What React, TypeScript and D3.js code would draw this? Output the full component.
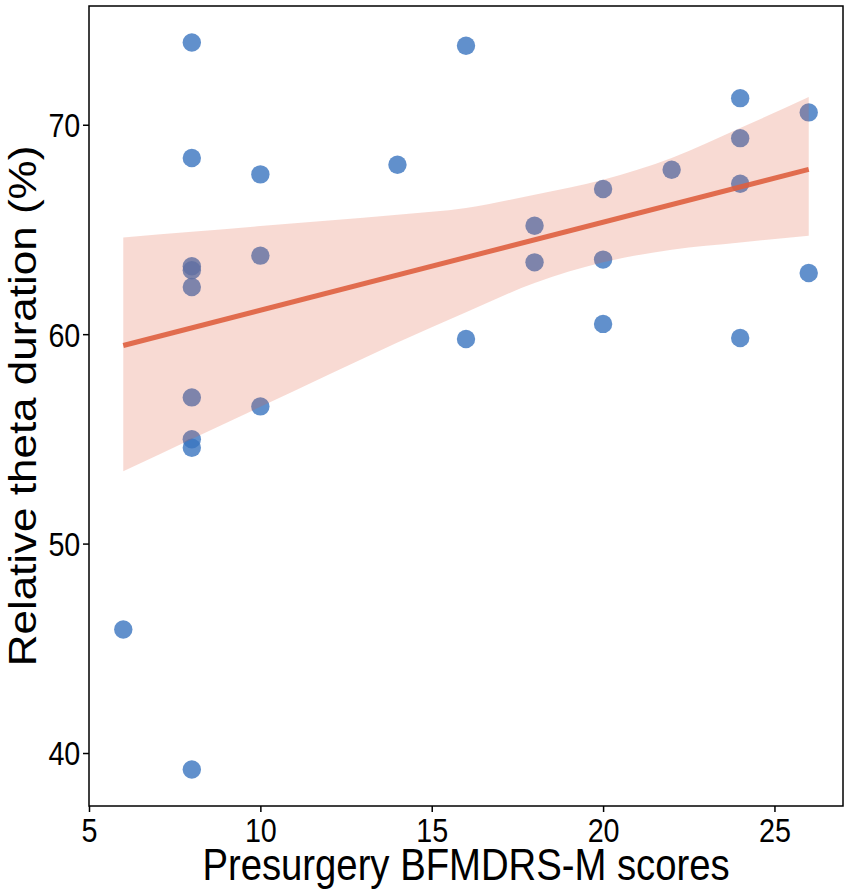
import React, { useEffect } from 'react';
import * as d3 from 'd3';

// presurgery BFMDRS-M score of each patient
const scores = [6, 8, 8, 8, 8, 8, 8, 8, 8, 8, 10, 10, 10, 14, 16, 16, 18, 18, 20, 20, 20, 22, 24, 24, 24, 24, 26, 26];
// relative theta duration (%) of each patient
const thetaDuration = [45.9, 73.93, 68.41, 63.24, 63.05, 62.25, 56.98, 54.98, 54.58, 39.21, 67.63, 63.75, 56.55, 68.09, 73.77, 59.77, 65.18, 63.43, 66.93, 63.56, 60.49, 67.85, 71.27, 69.36, 67.18, 59.82, 70.59, 62.92];

// regression line and its confidence band
const fitX = [6, 26];
const fitY = [59.46, 67.87];
const bandX = [6, 8, 10, 12, 14, 16, 18, 20, 22, 24, 26];
const bandLow = [53.45, 55.0, 56.53, 58.07, 59.6, 61.05, 62.44, 63.43, 64.03, 64.38, 64.7];
const bandHigh = [64.62, 64.89, 65.16, 65.43, 65.7, 66.02, 66.66, 67.37, 68.41, 69.84, 71.32];

const xTicks = [5, 10, 15, 20, 25];
const yTicks = [40, 50, 60, 70];

const App: React.FC = () => {
    const W = 851;
    const H = 896;
    const margin = { top: 6, right: 8, bottom: 90, left: 89 };
    const width = W - margin.left - margin.right;
    const height = H - margin.top - margin.bottom;
    const font = "'Liberation Sans', Arial, sans-serif";
    // the original figure is slightly squeezed horizontally, so is its text
    const squeeze = 0.87;

    useEffect(() => {
        d3.select('#scatter').select('svg').remove();

        const svg = d3.select('#scatter')
            .append('svg')
            .attr('width', W)
            .attr('height', H)
            .style('position', 'absolute')
            .style('left', 0)
            .style('top', 0)
            .style('background', '#fff');

        const g = svg.append('g')
            .attr('transform', `translate(${margin.left},${margin.top})`);

        const x = d3.scaleLinear().domain([5, 27]).range([0, width]);
        const y = d3.scaleLinear().domain([37.47, 75.67]).range([height, 0]);

        // points
        g.selectAll('circle')
            .data(scores.map((s, i) => [s, thetaDuration[i]]))
            .enter()
            .append('circle')
            .attr('cx', d => x(d[0]))
            .attr('cy', d => y(d[1]))
            .attr('r', 9.2)
            .attr('fill', '#3a74bf')
            .attr('fill-opacity', 0.8);

        // confidence band
        const area = d3.area<number>()
            .x((_, i) => x(bandX[i]))
            .y0((_, i) => y(bandLow[i]))
            .y1((_, i) => y(bandHigh[i]))
            .curve(d3.curveMonotoneX);
        g.append('path')
            .attr('d', area(bandX))
            .attr('fill', '#e0603f')
            .attr('fill-opacity', 0.23);

        // fit line
        const line = d3.line<number>()
            .x((_, i) => x(fitX[i]))
            .y((_, i) => y(fitY[i]));
        g.append('path')
            .attr('d', line(fitX))
            .attr('fill', 'none')
            .attr('stroke', '#de5f3f')
            .attr('stroke-opacity', 0.9)
            .attr('stroke-width', 5);

        // axes
        const xAxis = g.append('g')
            .attr('transform', `translate(0,${height})`)
            .call(d3.axisBottom(x).tickValues(xTicks).tickSize(6).tickPadding(7));
        const yAxis = g.append('g')
            .call(d3.axisLeft(y).tickValues(yTicks).tickSize(6).tickPadding(4));

        [xAxis, yAxis].forEach(a => {
            a.select('.domain').remove();
            a.selectAll('line').attr('stroke', '#000').attr('stroke-width', 1.5);
            a.selectAll('text')
                .attr('fill', '#000')
                .attr('transform', `scale(${squeeze},1)`)
                .style('font-family', font)
                .style('font-size', '33px');
        });
        yAxis.selectAll('text').attr('dy', '0.36em');

        // frame
        g.append('rect')
            .attr('width', width)
            .attr('height', height)
            .attr('fill', 'none')
            .attr('stroke', '#000')
            .attr('stroke-width', 1.5);

        // labels
        svg.append('text')
            .attr('transform', `translate(${margin.left + width / 2},880) scale(${squeeze},1)`)
            .attr('text-anchor', 'middle')
            .style('font-family', font)
            .style('font-size', '44px')
            .text('Presurgery BFMDRS-M scores');

        svg.append('text')
            .attr('transform', `translate(36,${margin.top + height / 2}) scale(${squeeze},1) rotate(-90)`)
            .attr('text-anchor', 'middle')
            .style('font-family', font)
            .style('font-size', '44px')
            .text('Relative theta duration (%)');
    }, []);

    return <div id="scatter" />;
};

export default App;
